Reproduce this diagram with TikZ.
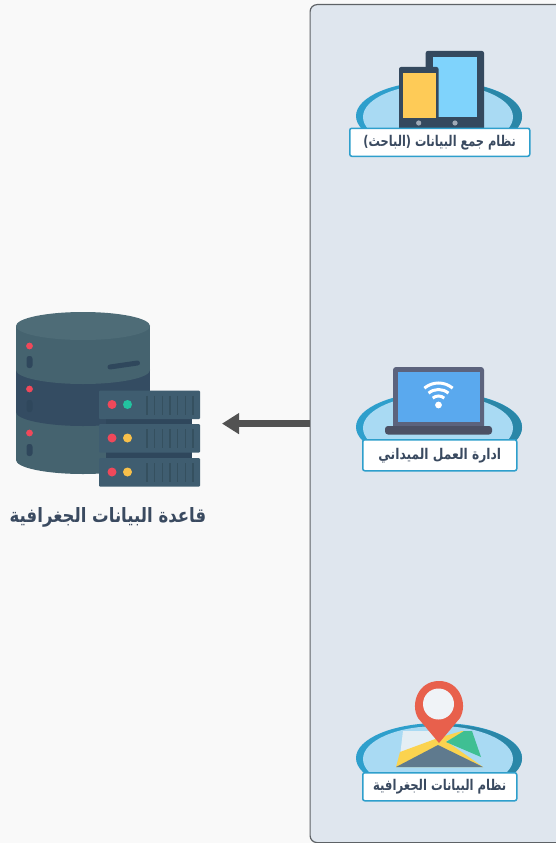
\documentclass[tikz,border=0pt]{standalone}
\usepackage{fontspec}
\usepackage{graphicx}
\usetikzlibrary{arrows.meta}
\TeXXeTstate=1
\newfontfamily\arabicfont[Script=Arabic]{DejaVu Sans}
\definecolor{bgc}{HTML}{F9F9F9}
\definecolor{panelc}{HTML}{DFE6EE}
\definecolor{panelline}{HTML}{5E6266}
\definecolor{dishc}{HTML}{2E9FCC}
\definecolor{dishd}{HTML}{2A87A8}
\definecolor{dishl}{HTML}{A9DAF3}
\definecolor{inkc}{HTML}{3A4A60}
\definecolor{slate}{HTML}{34495E}
\definecolor{band}{HTML}{45636F}
\definecolor{bandd}{HTML}{344C62}
\definecolor{capc}{HTML}{4E6C77}
\definecolor{srv}{HTML}{3F5D70}
\definecolor{srvd}{HTML}{2F475C}
\definecolor{redd}{HTML}{F0485A}
\definecolor{grn}{HTML}{22C3A0}
\definecolor{yel}{HTML}{F8C04A}
\definecolor{btn}{HTML}{A0AAB6}
\definecolor{pinc}{HTML}{E8604C}
\definecolor{tabscr}{HTML}{7FD3FC}
\definecolor{phscr}{HTML}{FECB57}
\definecolor{lapa}{HTML}{5C637D}
\definecolor{lapb}{HTML}{5AA9EE}
\definecolor{lapc}{HTML}{4B5064}
\definecolor{mapw}{HTML}{E4EEF4}
\definecolor{mapy}{HTML}{FBD34F}
\definecolor{mapg}{HTML}{3FBF93}
\definecolor{maps}{HTML}{5F7A8E}
\definecolor{pini}{HTML}{F0F3F7}
\definecolor{grl}{HTML}{35505F}
\tikzset{
  labelbox/.style={draw=dishc,line width=1.5pt,fill=white,rounded corners=2pt,inner sep=0pt,text=inkc,font=\arabicfont\bfseries\fontsize{13.2}{15}\selectfont},
  paneln/.style={draw=panelline,line width=1.2pt,fill=panelc,rounded corners=7pt,inner sep=0pt},
  titlen/.style={text=inkc,inner sep=0pt,font=\arabicfont\bfseries\fontsize{17.6}{20}\selectfont},
  arrowc/.style={draw=black!68,line width=7.5pt,-{Triangle[length=17pt,width=20pt]}},
  grille/.style={draw=grl,line width=1.4pt},
  wifi/.style={draw=white,line width=3pt}
}
\newcommand{\dish}[1]{%
  \begin{scope}
    \clip (340,#1-60) rectangle (540,#1+28);
    \fill[dishc] (439,#1) ellipse [x radius=83pt,y radius=35pt];
    \fill[dishd] (446,#1+0.5) ellipse [x radius=76pt,y radius=34pt];
    \fill[dishl] (438,#1+1) ellipse [x radius=75pt,y radius=33pt];
  \end{scope}}
\newcommand{\serverrow}[2]{%
  \fill[srv,rounded corners=1pt] (99,#1) rectangle (200,#1+28.5);
  \fill[redd] (112,#1+14) circle (4.5pt);
  \fill[#2] (127.5,#1+14) circle (4.5pt);
  \foreach \gx in {147,154.7,162.3,170,177.7,185.3,193}{\draw[grille] (\gx,#1+5) -- (\gx,#1+24);}}
\begin{document}
\begin{tikzpicture}[x=1pt,y=-1pt]
\useasboundingbox (0,0) rectangle (556,843);
\fill[bgc] (0,0) rectangle (556,843);
% panel
\begin{scope}
\clip (0,0) rectangle (556,843);
\node[paneln,minimum width=260pt,minimum height=838pt,anchor=north west] (panel) at (309.5,4) {};
\end{scope}
\coordinate (dbtip) at ([xshift=-87.5pt]panel.west);
\draw[arrowc] (panel.west) -- (dbtip);
% database
\fill[band] (16,380) rectangle (150,460);
\fill[band] (83,460) ellipse [x radius=67pt,y radius=14pt];
\fill[bandd] (16,360) rectangle (150,412);
\fill[bandd] (83,412) ellipse [x radius=67pt,y radius=14pt];
\fill[band] (16,326) rectangle (150,370);
\fill[band] (83,370) ellipse [x radius=67pt,y radius=14pt];
\fill[capc] (83,326) ellipse [x radius=67pt,y radius=14pt];
\foreach \dy/\sy in {346/362,389/406,433/450}{
  \fill[redd] (29.5,\dy) circle (3.4pt);
  \fill[srvd,rounded corners=2.5pt] (26.5,\sy-6) rectangle (32.5,\sy+6);
}
\draw[srvd,line width=5pt,line cap=round] (110,367) -- (137.5,363);
% servers
\fill[srvd] (106,418) rectangle (192,426);
\fill[srvd] (106,451) rectangle (192,459);
\serverrow{390.5}{grn}
\serverrow{424}{yel}
\serverrow{458}{yel}
\node[titlen] (dbtitle) at (108,517) {\scalebox{0.94}[1.12]{\beginR قاعدة البيانات الجغرافية\endR}};
% dishes
\dish{116}
\dish{427}
\dish{758}
% tablet and phone
\fill[slate,rounded corners=2pt] (425.7,51) rectangle (484,130);
\fill[tabscr] (432.7,57) rectangle (477,117);
\fill[btn] (455,123) circle (2.6pt);
\fill[slate,rounded corners=2pt] (399,67) rectangle (438.5,130);
\fill[phscr] (402.5,73) rectangle (435.5,118);
\fill[btn] (418.7,123) circle (2.6pt);
\node[labelbox,minimum width=180pt,minimum height=28pt,anchor=north west] (lab1) at (349,127.5) {\scalebox{0.86}[1.12]{\beginR نظام جمع البيانات (الباحث)\endR}};
% laptop
\fill[lapa,rounded corners=3pt] (393,367) rectangle (484,430);
\fill[lapb] (398,372) rectangle (480,422);
\fill[lapc,rounded corners=3pt] (385,426) rectangle (492,434.5);
\begin{scope}[shift={(438.5,405)},y=1pt]
  \fill[white] (0,0) circle (3.4pt);
  \foreach \r in {9,15.5,22}{\draw[wifi] (130:\r) arc [start angle=130,end angle=50,radius=\r pt];}
\end{scope}
\node[labelbox,minimum width=154pt,minimum height=31pt,anchor=north west] (lab2) at (362,439) {\scalebox{0.93}[1.12]{\beginR ادارة العمل الميداني\endR}};
% map
\fill[mapw] (403,731) -- (440,731) -- (440,741) -- (400,756) -- cycle;
\fill[mapy] (462,731) -- (472,731) -- (446,741) -- (483,767) -- (396,767) -- (400,752) -- (438,738) -- cycle;
\fill[mapg] (464,731) -- (472,731) -- (481,757) -- (446,742) -- cycle;
\fill[maps] (396,767) -- (438,745) -- (483,767) -- cycle;
% pin
\fill[pinc] (439,743) -- (418,718) .. controls (410,704) and (418,681) .. (439,681) .. controls (460,681) and (468,704) .. (460,718) -- cycle;
\fill[pini] (438.5,704) circle (15.5pt);
\node[labelbox,minimum width=154pt,minimum height=28pt,anchor=north west] (lab3) at (362,772) {\scalebox{0.88}[1.12]{\beginR نظام البيانات الجغرافية\endR}};
\end{tikzpicture}
\end{document}
